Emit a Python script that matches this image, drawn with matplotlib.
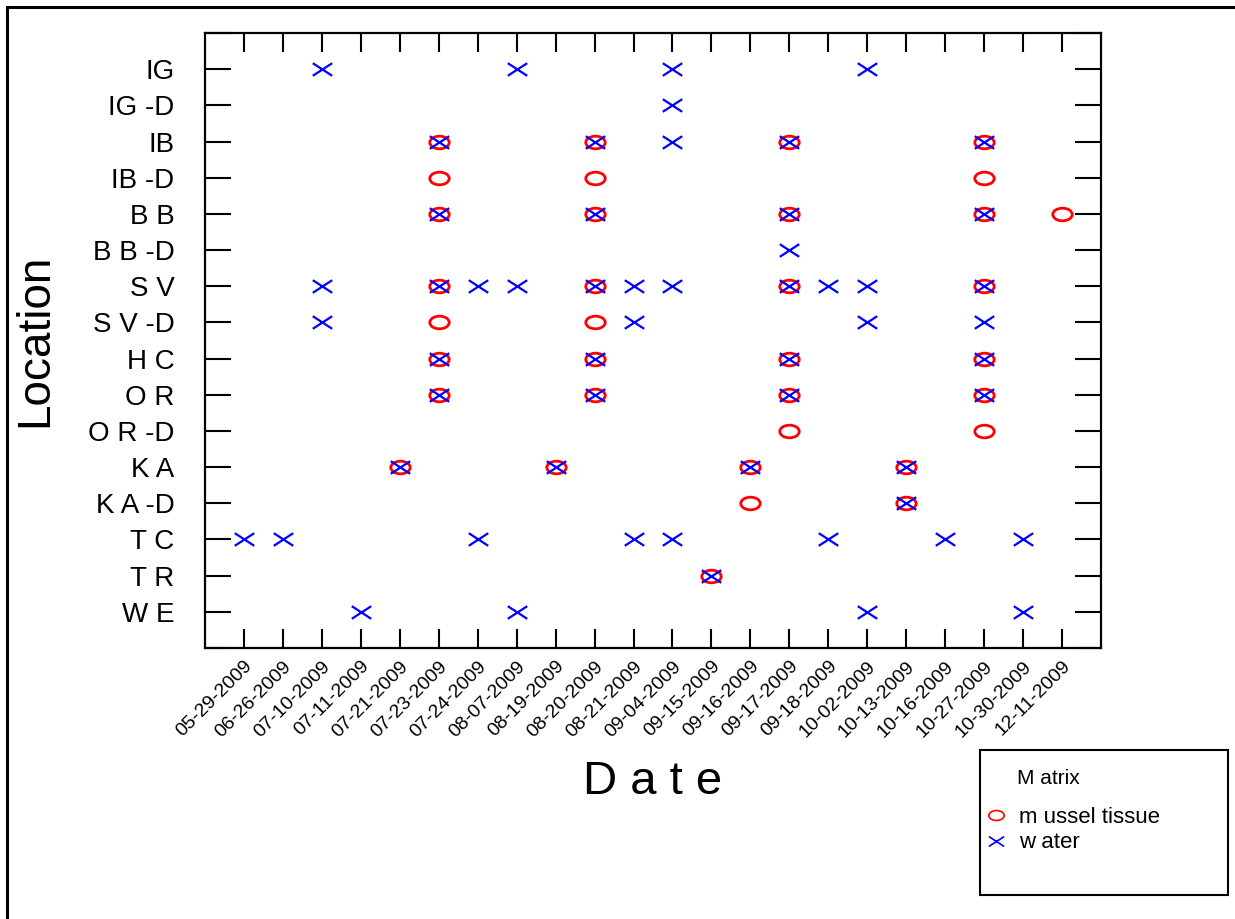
import numpy as np
import matplotlib
matplotlib.use("Agg")
import matplotlib.pyplot as plt
from matplotlib.path import Path
from matplotlib.lines import Line2D
from matplotlib.patches import Rectangle

plt.rcParams['font.family'] = ['Liberation Sans', 'DejaVu Sans']

dates = ["05-29-2009", "06-26-2009", "07-10-2009", "07-11-2009", "07-21-2009",
         "07-23-2009", "07-24-2009", "08-07-2009", "08-19-2009", "08-20-2009",
         "08-21-2009", "09-04-2009", "09-15-2009", "09-16-2009", "09-17-2009",
         "09-18-2009", "10-02-2009", "10-13-2009", "10-16-2009", "10-27-2009",
         "10-30-2009", "12-11-2009"]

# top to bottom
locations = ["IG", "IG -D", "IB", "IB -D", "B B", "B B -D", "S V", "S V -D",
             "H C", "O R", "O R -D", "K A", "K A -D", "T C", "T R", "W E"]

# mussel tissue samples: location -> sampling dates
mussel = {
    "IB": ["07-23-2009", "08-20-2009", "09-17-2009", "10-27-2009"],
    "IB -D": ["07-23-2009", "08-20-2009", "10-27-2009"],
    "B B": ["07-23-2009", "08-20-2009", "09-17-2009", "10-27-2009", "12-11-2009"],
    "S V": ["07-23-2009", "08-20-2009", "09-17-2009", "10-27-2009"],
    "S V -D": ["07-23-2009", "08-20-2009"],
    "H C": ["07-23-2009", "08-20-2009", "09-17-2009", "10-27-2009"],
    "O R": ["07-23-2009", "08-20-2009", "09-17-2009", "10-27-2009"],
    "O R -D": ["09-17-2009", "10-27-2009"],
    "K A": ["07-21-2009", "08-19-2009", "09-16-2009", "10-13-2009"],
    "K A -D": ["09-16-2009", "10-13-2009"],
    "T R": ["09-15-2009"],
}

# water samples: location -> sampling dates
water = {
    "IG": ["07-10-2009", "08-07-2009", "09-04-2009", "10-02-2009"],
    "IG -D": ["09-04-2009"],
    "IB": ["07-23-2009", "08-20-2009", "09-04-2009", "09-17-2009", "10-27-2009"],
    "B B": ["07-23-2009", "08-20-2009", "09-17-2009", "10-27-2009"],
    "B B -D": ["09-17-2009"],
    "S V": ["07-10-2009", "07-23-2009", "07-24-2009", "08-07-2009", "08-20-2009",
            "08-21-2009", "09-04-2009", "09-17-2009", "09-18-2009", "10-02-2009",
            "10-27-2009"],
    "S V -D": ["07-10-2009", "08-21-2009", "10-02-2009", "10-27-2009"],
    "H C": ["07-23-2009", "08-20-2009", "09-17-2009", "10-27-2009"],
    "O R": ["07-23-2009", "08-20-2009", "09-17-2009", "10-27-2009"],
    "K A": ["07-21-2009", "08-19-2009", "09-16-2009", "10-13-2009"],
    "K A -D": ["10-13-2009"],
    "T C": ["05-29-2009", "06-26-2009", "07-24-2009", "08-21-2009", "09-04-2009",
            "09-18-2009", "10-16-2009", "10-30-2009"],
    "T R": ["09-15-2009"],
    "W E": ["07-11-2009", "08-07-2009", "10-02-2009", "10-30-2009"],
}


def to_xy(d):
    xs, ys = [], []
    for loc, ds in d.items():
        for dt in ds:
            xs.append(dates.index(dt))
            ys.append(len(locations) - 1 - locations.index(loc))
    return np.array(xs), np.array(ys)


# flattened marker shapes like the original
circ = Path.unit_circle()
ell = Path(circ.vertices * [1.0, 0.65], circ.codes)
flat_x = Path([(-1, -0.65), (1, 0.65), (-1, 0.65), (1, -0.65)],
              [Path.MOVETO, Path.LINETO, Path.MOVETO, Path.LINETO])

fig = plt.figure(figsize=(12.35, 9.19), dpi=100)
ax = fig.add_axes([205 / 1235, 1 - 648 / 919, 896 / 1235, 615 / 919])

mx, my = to_xy(mussel)
wx, wy = to_xy(water)
ax.plot(mx, my, ls='none', marker=ell, ms=14, mfc='none', mec='red', mew=2.0)
ax.plot(wx, wy, ls='none', marker=flat_x, ms=14, mec='blue', mew=1.6)

ax.set_xlim(-1, len(dates))
ax.set_ylim(-1, len(locations))
ax.set_xticks(range(len(dates)))
ax.set_xticklabels(dates, rotation=45, ha='right', rotation_mode='anchor', fontsize=14)
ax.set_yticks(range(len(locations)))
ax.set_yticklabels(locations[::-1], fontsize=20)
ax.set_yticks([-1, len(locations)], minor=True)
ax.tick_params(axis='x', which='both', direction='in', length=14, width=1.5,
               top=True, bottom=True, pad=7)
ax.tick_params(axis='y', which='both', direction='in', length=19, width=1.5,
               left=True, right=True, pad=22)
for s in ax.spines.values():
    s.set_linewidth(1.6)

ax.set_xlabel("D a t e", fontsize=34, labelpad=14)
ax.set_ylabel("Location", fontsize=33, labelpad=22)

# outer frame
fig.patches.append(Rectangle((7 / 1235, -0.5), 2, 0.5 + 1 - 7 / 919, fill=False,
                             lw=2.2, ec='black', transform=fig.transFigure))

# legend box
fig.patches.append(Rectangle((980 / 1235, 1 - 895 / 919), 248 / 1235, 145 / 919,
                             fill=False, lw=1.5, ec='black', transform=fig.transFigure))
fig.text(1017 / 1235, 1 - 778 / 919, "M atrix", fontsize=15, va='center')
handles = [Line2D([], [], ls='none', marker=ell, ms=11, mfc='none', mec='red', mew=1.2),
           Line2D([], [], ls='none', marker=flat_x, ms=11, mec='blue', mew=1.2)]
fig.legend(handles, ["m ussel tissue", "w ater"], loc='upper left',
           bbox_to_anchor=(985 / 1235, 1 - 807 / 919), frameon=False, fontsize=16,
           handlelength=1.0, handletextpad=0.55, labelspacing=0.2, borderpad=0,
           borderaxespad=0)

fig.savefig("out.png", dpi=100)
